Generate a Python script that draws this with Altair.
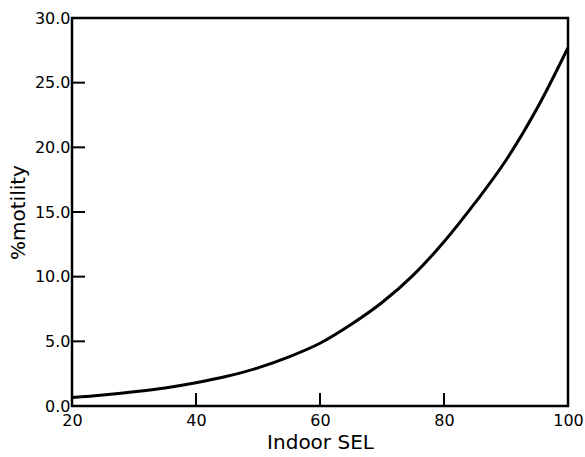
import altair as alt
import pandas as pd

# Data
sel = [20, 25, 30, 35, 40, 45, 50, 55, 60, 65, 70, 75, 80, 85, 90, 95, 100]
motility = [0.65, 0.85, 1.1, 1.4, 1.8, 2.3, 2.95, 3.8, 4.85, 6.3, 8.0, 10.1, 12.7, 15.7, 19.0, 23.0, 27.7]

x_ticks = [20, 40, 60, 80, 100]
y_ticks = [0, 5, 10, 15, 20, 25, 30]
x_inner_ticks = [40, 60, 80]
y_inner_ticks = [5, 10, 15, 20, 25]

df = pd.DataFrame({"sel": sel, "mot": motility})
xt = pd.DataFrame({"v": x_inner_ticks})
yt = pd.DataFrame({"v": y_inner_ticks})

FONT = "DejaVu Sans"
xscale = alt.Scale(domain=[20, 100], nice=False, zero=False)
yscale = alt.Scale(domain=[0, 30], nice=False)

line = alt.Chart(df).mark_line(color="black", strokeWidth=3, interpolate="monotone").encode(
    x=alt.X("sel:Q", scale=xscale,
            axis=alt.Axis(values=x_ticks, title="Indoor SEL", ticks=False, domain=False,
                          grid=False, labelFont=FONT, labelFontSize=16, labelColor="black",
                          labelPadding=6, titleFont=FONT, titleFontSize=20,
                          titleFontWeight="normal", titleColor="black", titlePadding=4,
                          labelFlush=False)),
    y=alt.Y("mot:Q", scale=yscale,
            axis=alt.Axis(values=y_ticks, format=".1f", title="%motility", ticks=False,
                          domain=False, grid=False, labelFont=FONT, labelFontSize=16,
                          labelColor="black", labelPadding=2, titleFont=FONT,
                          titleFontSize=20, titleFontWeight="normal", titleColor="black",
                          titlePadding=6, labelFlush=False)),
)

xtick = alt.Chart(xt).mark_rule(color="black", strokeWidth=2).encode(
    x=alt.X("v:Q", scale=xscale),
    y=alt.value(388), y2=alt.value(375),
)
ytick = alt.Chart(yt).mark_rule(color="black", strokeWidth=2).encode(
    y=alt.Y("v:Q", scale=yscale),
    x=alt.value(0), x2=alt.value(13),
)

chart = alt.layer(xtick, ytick, line).properties(
    width=496, height=388,
    autosize=alt.AutoSizeParams(type="none"),
    padding={"left": 72, "top": 18, "right": 17, "bottom": 51},
).configure(background="white").configure_view(stroke="black", strokeWidth=2.5)

chart.save("out.html", embed_options={"renderer": "svg", "actions": False})
